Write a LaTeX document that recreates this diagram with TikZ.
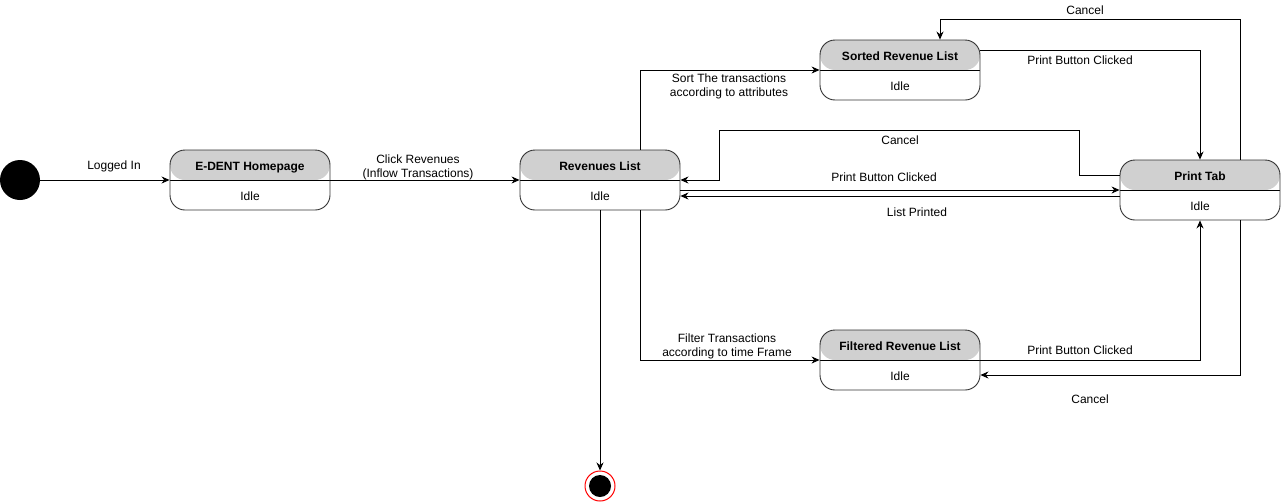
\documentclass[tikz,border=0pt]{standalone}
\usepackage{fontspec}
\setmainfont{Liberation Sans}
\usetikzlibrary{arrows.meta,calc}
\definecolor{hdr}{HTML}{D0D0D0}
\definecolor{edge}{HTML}{333333}
\tikzset{
  state/.style={draw=edge, line width=0.9pt, rounded corners=15pt, minimum width=160pt, minimum height=60pt, inner sep=0pt,
    path picture={\fill[hdr] (path picture bounding box.north west) rectangle (path picture bounding box.east);
      \draw[black, line width=0.9pt] (path picture bounding box.west) -- (path picture bounding box.east);}},
  ttl/.style={font=\fontsize{12}{14}\selectfont\bfseries, inner sep=0pt, anchor=base},
  idle/.style={font=\fontsize{12}{14}\selectfont, inner sep=0pt, anchor=base},
  lbl/.style={font=\fontsize{12}{14}\selectfont, align=center, inner sep=0pt, anchor=base},
  arr/.style={draw=black, line width=0.8pt, -{Stealth[length=8pt,width=7pt]}},
}
\begin{document}
\begin{tikzpicture}[x=1pt,y=-1pt]
\useasboundingbox (0,0) rectangle (1281,501);
% initial and final
\node[circle, fill=black, minimum size=40pt, inner sep=0pt] (init) at (20,180) {};
\node[circle, draw=red, line width=1pt, fill=white, minimum size=30pt, inner sep=0pt] (final) at (600,486) {};
\node[circle, fill=black, minimum size=22pt, inner sep=0pt] (finalin) at (600,486) {};
% states
\node[state] (home) at (250,180) {};
\node[ttl] (homet) at (250,170) {E-DENT Homepage};
\node[idle] (homei) at (250,200) {Idle};
\node[state] (rev) at (600,180) {};
\node[ttl] (revt) at (600,170) {Revenues List};
\node[idle] (revi) at (600,200) {Idle};
\node[state] (sorted) at (900,70) {};
\node[ttl] (sortedt) at (900,60) {Sorted Revenue List};
\node[idle] (sortedi) at (900,90) {Idle};
\node[state] (filt) at (900,360) {};
\node[ttl] (filtt) at (900,350) {Filtered Revenue List};
\node[idle] (filti) at (900,380) {Idle};
\node[state] (print) at (1200,190) {};
\node[ttl] (printt) at (1200,180) {Print Tab};
\node[idle] (printi) at (1200,210) {Idle};
% connectors
\draw[arr] (init.east) -- (home.west);
\draw[arr] (home.east) -- (rev.west);
\draw[arr] ([xshift=40pt]rev.north) |- (sorted.west);
\draw[arr] ([xshift=40pt]rev.south) |- (filt.west);
\draw[arr] (rev.south) -- (final.north);
\draw[arr] ([yshift=20pt]sorted.east) -| (print.north);
\draw[arr] ([xshift=40pt]print.north) -- ++(0,-140) -| ([xshift=40pt]sorted.north);
\draw[arr] (filt.east) -| (print.south);
\draw[arr] ([xshift=40pt]print.south) |- ([yshift=-15pt]filt.east);
\draw[arr] ([yshift=15pt]print.west) -- ++(-40,0) -- ++(0,-45) -- ++(-360,0) |- (rev.east);
\draw[arr] ([yshift=-10pt]rev.east) -- (print.west);
\draw[arr] ([yshift=-6pt]print.west) -- ([yshift=-16pt]rev.east);
% labels
\node[lbl] (l1) at (114,169) {Logged In};
\node[lbl] (l2) at (418,177) {Click Revenues\\(Inflow Transactions)};
\node[lbl] (l3) at (729,96) {Sort The transactions\\according to attributes};
\node[lbl] (l4) at (727,356) {Filter Transactions\\according to time Frame};
\node[lbl] (l5) at (1080,64.5) {Print Button Clicked};
\node[lbl] (l6) at (1085,14.5) {Cancel};
\node[lbl] (l7) at (900,144.5) {Cancel};
\node[lbl] (l8) at (884,181.5) {Print Button Clicked};
\node[lbl] (l9) at (917,216.5) {List Printed};
\node[lbl] (l10) at (1080,354.5) {Print Button Clicked};
\node[lbl] (l11) at (1090,403.5) {Cancel};
\end{tikzpicture}
\end{document}
